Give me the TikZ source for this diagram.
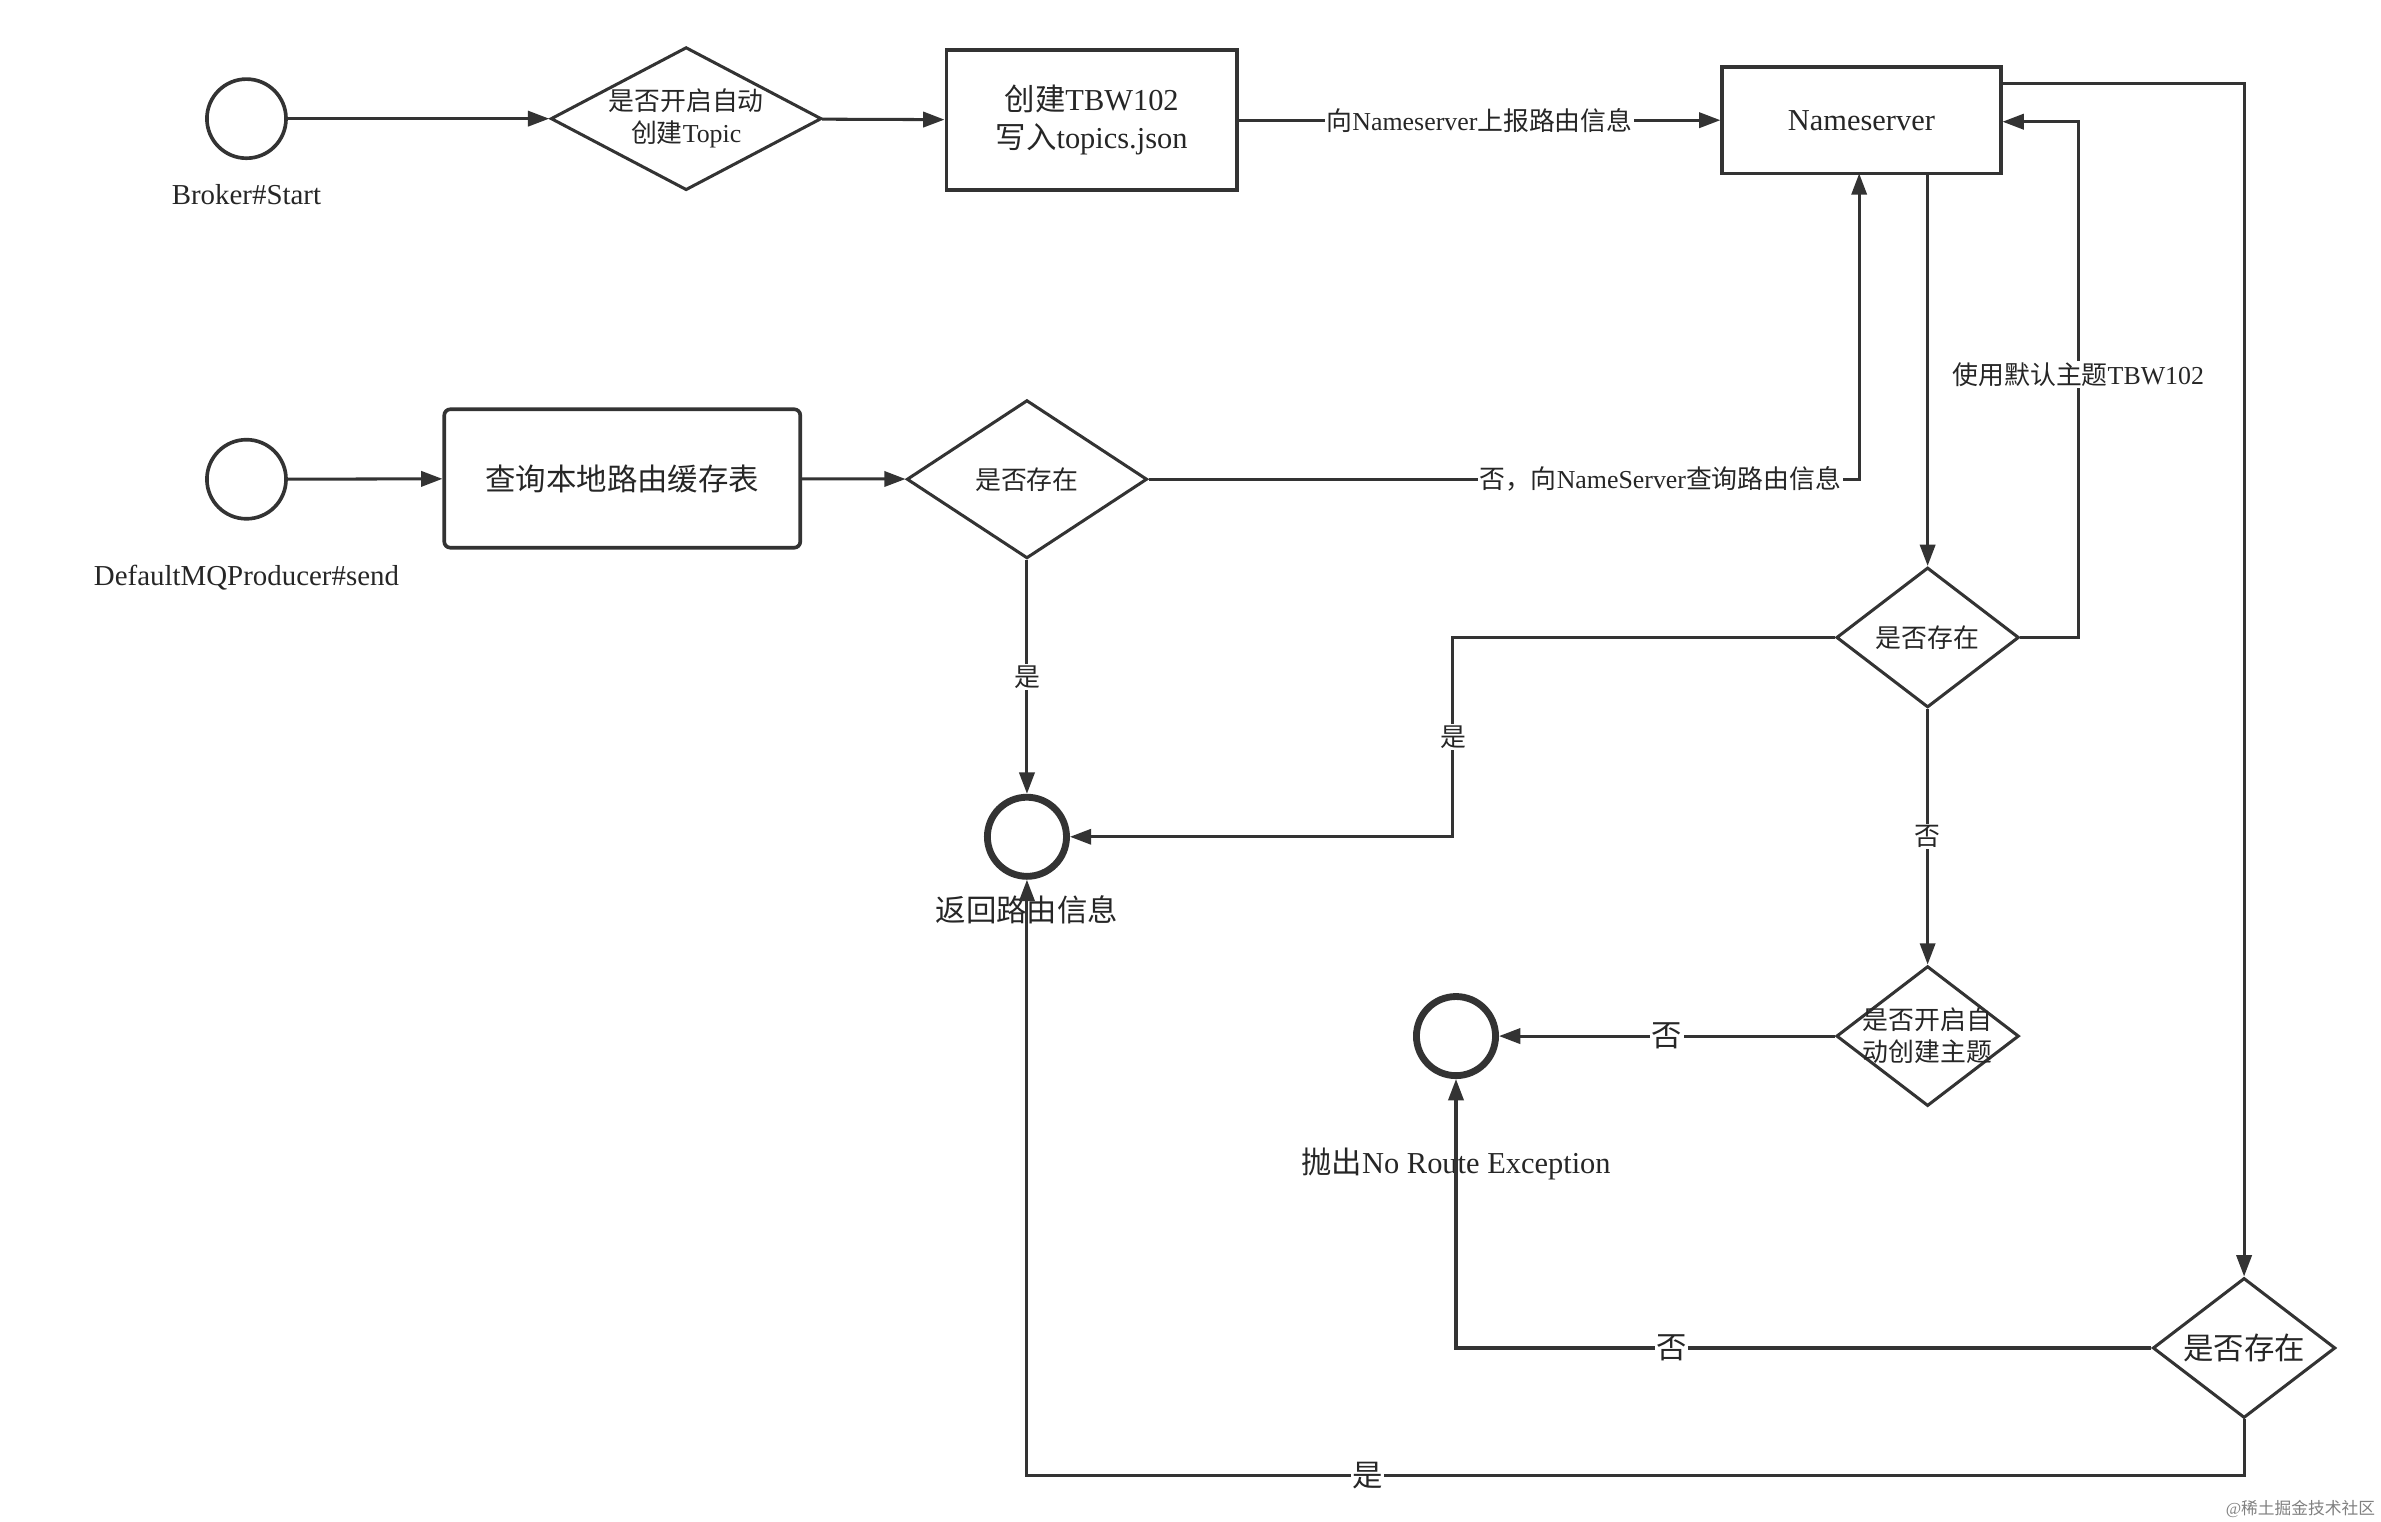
\documentclass[tikz,border=0pt]{standalone}
\usepackage{fontspec}
\setmainfont{Liberation Serif}
\newfontfamily\cjk{Noto Sans CJK SC}
\newcommand\zh[1]{{\cjk #1}}
\usetikzlibrary{shapes.geometric,arrows.meta}
\begin{document}
\begin{tikzpicture}[x=1pt,y=-1pt,
  every node/.style={font=\fontsize{17}{21}\selectfont, text=black!85},
  ln/.style={draw=black!80,line width=2pt},
  ar/.style={ln,-{Triangle[length=14pt,width=10pt]}},
  circ/.style={circle,draw=black!80,line width=2.4pt,minimum size=52pt,inner sep=0},
  tcirc/.style={circle,draw=black!80,line width=4.5pt,minimum size=52pt,inner sep=0},
  dia/.style={diamond,draw=black!80,line width=2pt,inner sep=0,align=center},
  box/.style={rectangle,draw=black!80,line width=2.4pt,align=center},
  lab/.style={fill=white,inner sep=1pt}]
\useasboundingbox (0,0) rectangle (1565,1000);
\node[circ] (s1) at (162,78) {};
\node[font=\fontsize{19}{23}\selectfont] at (162,128) {Broker\#Start};
\node[dia,minimum width=178pt,minimum height=94pt,inner sep=-14pt] (d1) at (451,78) {\zh{是否开启自动}\\\zh{创建}Topic};
\node[box,minimum width=191pt,minimum height=92pt,font=\fontsize{20}{25}\selectfont] (b1) at (717.5,79) {\zh{创建}TBW102\\\zh{写入}topics.json};
\node[box,minimum width=183pt,minimum height=70pt,font=\fontsize{20}{24}\selectfont] (ns) at (1223.5,79) {Nameserver};
\draw[ar] (s1) -- (d1);
\draw[ar] (d1) -- (b1);
\draw[ar] (b1) -- node[lab]{\zh{向}Nameserver\zh{上报路由信息}} (ns.west|-b1);

\node[circ] (s2) at (162,315) {};
\node[font=\fontsize{19}{23}\selectfont] at (162,380) {DefaultMQProducer\#send};
\node[box,rounded corners=4pt,minimum width=234pt,minimum height=91pt,font=\fontsize{20}{24}\selectfont] (b2) at (409,314.5) {\zh{查询本地路由缓存表}};
\node[dia,minimum width=158pt,minimum height=104pt] (d2) at (675,315) {\zh{是否存在}};
\draw[ar] (s2) -- (b2);
\draw[ar] (b2) -- (d2);
\coordinate (c1) at (1222,315);
\draw[ar] (d2.east) -- node[lab,pos=0.72]{\zh{否，向}NameServer\zh{查询路由信息}} (c1) -- (1222,114);

\node[tcirc] (r) at (675,550) {};
\node[font=\fontsize{20}{24}\selectfont] at (675,598) {\zh{返回路由信息}};
\draw[ar] (d2.south) -- node[lab]{\zh{是}} (r.north);

\node[dia,minimum width=120pt,minimum height=92pt] (d3) at (1267,419) {\zh{是否存在}};
\draw[ar] (1267,114) -- (d3.north);
\coordinate (c2) at (1366,419);
\coordinate (c3) at (1366,80);
\draw[ar] (d3.east) -- (c2) -- node[lab,pos=0.51]{\zh{使用默认主题}TBW102} (c3) -- (ns.east|-c3);
\coordinate (c4) at (955,419);
\coordinate (c5) at (955,550);
\draw[ar] (d3.west) -- (c4) -- node[lab]{\zh{是}} (c5) -- (r.east);

\node[dia,minimum width=120pt,minimum height=92pt,inner sep=-9pt] (d4) at (1267,681) {\zh{是否开启自}\\\zh{动创建主题}};
\draw[ar] (d3.south) -- node[lab]{\zh{否}} (d4.north);
\node[tcirc] (x) at (957,681) {};
\node[font=\fontsize{20}{24}\selectfont] at (957,765) {\zh{抛出}No Route Exception};
\draw[ar] (d4.west) -- node[lab,font=\fontsize{20}{24}\selectfont]{\zh{否}} (x.east);

\node[dia,minimum width=120pt,minimum height=92pt,inner sep=-6pt,font=\fontsize{20}{24}\selectfont] (d5) at (1475,886) {\zh{是否存在}};
\coordinate (c6) at (1475,55);
\draw[ar] (ns.east|-c6) -- (c6) -- (d5.north);
\coordinate (c7) at (957,886);
\draw[ar] (d5.west) -- node[lab,font=\fontsize{20}{24}\selectfont,pos=0.69]{\zh{否}} (c7) -- (x.south);
\coordinate (c8) at (1475,970);
\coordinate (c9) at (675,970);
\draw[ar] (d5.south) -- (c8) -- node[lab,font=\fontsize{20}{24}\selectfont,pos=0.72]{\zh{是}} (c9) -- (r.south);

\node[font=\fontsize{11}{13}\selectfont,text=black!50] at (1512,992) {@\zh{稀土掘金技术社区}};
\end{tikzpicture}
\end{document}
